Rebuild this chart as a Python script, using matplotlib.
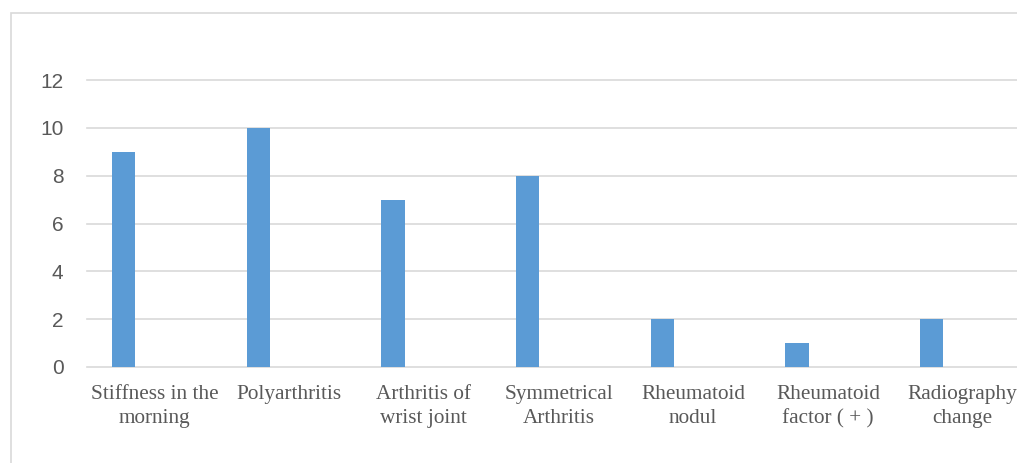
import matplotlib
matplotlib.use("Agg")
import matplotlib.pyplot as plt
from matplotlib.patches import Rectangle
import numpy as np

categories = [
    "Stiffness in the\nmorning",
    "Polyarthritis",
    "Arthritis of\nwrist joint",
    "Symmetrical\nArthritis",
    "Rheumatoid\nnodul",
    "Rheumatoid\nfactor ( + )",
    "Radiography\nchange",
]
counts = [9, 10, 7, 8, 2, 1, 2]
y_ticks = [0, 2, 4, 6, 8, 10, 12]

W, H, DPI = 1017, 463, 100
fig = plt.figure(figsize=(W / DPI, H / DPI), dpi=DPI)
fig.patch.set_facecolor("white")

# chart-area frame (extends past the right and bottom edges)
fig.patches.append(Rectangle((11 / W, -20 / H), 1200 / W, (H - 13 + 20) / H,
                             transform=fig.transFigure, fill=False,
                             edgecolor="#d9d9d9", linewidth=1.2, zorder=0))

# plot area in pixel geometry
left_px, right_px = 87, 1030
top_px, zero_px = 80, 367
ax = fig.add_axes([left_px / W, (H - zero_px) / H,
                   (right_px - left_px) / W, (zero_px - top_px) / H])
ax.set_facecolor("none")

x = np.arange(len(categories))
bar_offset = -0.229
bar_width = 0.173
ax.bar(x + bar_offset, counts, width=bar_width, color="#5b9bd5", zorder=3)

ax.set_xlim(-0.5, len(categories) - 0.5)
ax.set_ylim(0, 12)
ax.set_yticks(y_ticks)
ax.set_yticklabels([str(v) for v in y_ticks], fontfamily="Liberation Sans",
                   fontsize=15, color="#595959")
ax.set_xticks(x)
ax.set_xticklabels(categories, fontfamily="Liberation Serif", fontsize=15.3,
                   color="#595959", linespacing=1.33)

ax.tick_params(axis="y", length=0, pad=17)
ax.tick_params(axis="x", length=0, pad=13)

for v in y_ticks:
    ax.axhline(v, color="#d9d9d9", linewidth=1.2, zorder=1, clip_on=False)

for s in ax.spines.values():
    s.set_visible(False)

fig.savefig("out.png", dpi=DPI, facecolor="white")
